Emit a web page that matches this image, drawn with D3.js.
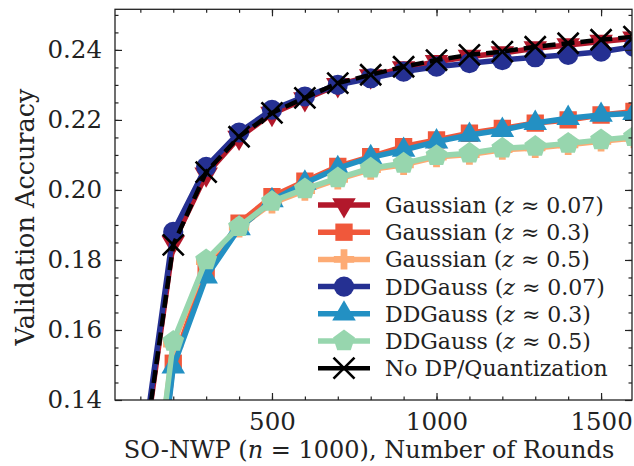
<!DOCTYPE html>
<html>
<head>
<meta charset="utf-8">
<script src="https://cdn.jsdelivr.net/npm/d3@7"></script>
<style>
  body { margin: 0; background: #fff; }
  svg text { font-family: "DejaVu Serif", serif; fill: #222; }
</style>
</head>
<body>
<svg id="chart" width="634" height="466"></svg>
<script>
// rounds on the x axis
const rounds = [100, 200, 300, 400, 500, 600, 700, 800, 900, 1000, 1100, 1200, 1300, 1400, 1500, 1600];

// validation accuracy per series
const gauss007 = [0.118, 0.1850, 0.2045, 0.2150, 0.2218, 0.2260, 0.2300, 0.2325, 0.2348, 0.2366, 0.2381, 0.2391, 0.2405, 0.2414, 0.2424, 0.2433];
const gauss03  = [0.070, 0.1505, 0.1771, 0.1905, 0.1981, 0.2025, 0.2067, 0.2095, 0.2124, 0.2143, 0.2162, 0.2176, 0.2191, 0.2200, 0.2214, 0.2224];
const gauss05  = [0.080, 0.1560, 0.1795, 0.1893, 0.1962, 0.1998, 0.2030, 0.2058, 0.2072, 0.2094, 0.2101, 0.2115, 0.2120, 0.2129, 0.2139, 0.2148];
const ddg007   = [0.120, 0.1880, 0.2066, 0.2164, 0.2229, 0.2267, 0.2300, 0.2319, 0.2338, 0.2352, 0.2362, 0.2371, 0.2379, 0.2386, 0.2395, 0.2409];
const ddg03    = [0.070, 0.1495, 0.1752, 0.1890, 0.1970, 0.2020, 0.2062, 0.2093, 0.2114, 0.2138, 0.2157, 0.2171, 0.2191, 0.2205, 0.2214, 0.2219];
const ddg05    = [0.080, 0.1567, 0.1800, 0.1895, 0.1967, 0.2003, 0.2034, 0.2062, 0.2076, 0.2098, 0.2105, 0.2119, 0.2124, 0.2133, 0.2143, 0.2152];
const noDP     = [0.118, 0.1843, 0.2051, 0.2152, 0.2220, 0.2263, 0.2305, 0.2329, 0.2352, 0.2371, 0.2386, 0.2395, 0.2409, 0.2419, 0.2429, 0.2438];

// legend names (prefix, z value); the last one has no z
const seriesNames = ["Gaussian", "Gaussian", "Gaussian", "DDGauss", "DDGauss", "DDGauss", "No DP/Quantization"];
const zValues = ["0.07", "0.3", "0.5", "0.07", "0.3", "0.5", null];

const yTicks = [0.14, 0.16, 0.18, 0.20, 0.22, 0.24];
const xTicks = [500, 1000, 1500];

const series = [
  { name: seriesNames[0], z: zValues[0], values: gauss007, color: "#b2182b", marker: "tridown" },
  { name: seriesNames[1], z: zValues[1], values: gauss03, color: "#f0583b", marker: "square" },
  { name: seriesNames[2], z: zValues[2], values: gauss05, color: "#fdab74", marker: "plus" },
  { name: seriesNames[3], z: zValues[3], values: ddg007, color: "#253092", marker: "circle" },
  { name: seriesNames[4], z: zValues[4], values: ddg03, color: "#2390c3", marker: "triup" },
  { name: seriesNames[5], z: zValues[5], values: ddg05, color: "#97d6ae", marker: "pentagon" },
  { name: seriesNames[6], z: zValues[6], values: noDP, color: "#000000", marker: "x", dashed: true }
];

const plotLeft = 115, plotRight = 632, plotTop = 9.3, plotBottom = 400;

let svg = d3.select("#chart");

let x = d3.scaleLinear().domain([23, 1594]).range([plotLeft, plotRight]);
let y = d3.scaleLinear().domain([0.14, 0.2516]).range([plotBottom, plotTop]);

// clip to plot area
svg.append("defs").append("clipPath")
  .attr("id", "plotclip")
  .append("rect")
  .attr("x", plotLeft).attr("y", plotTop)
  .attr("width", plotRight - plotLeft).attr("height", plotBottom - plotTop);

// marker path generator
function markerPath(kind) {
  if (kind == "circle") return d3.symbol(d3.symbolCircle, 320)();
  if (kind == "square") return d3.symbol(d3.symbolSquare, 300)();
  if (kind == "triup") return d3.symbol(d3.symbolTriangle, 240)();
  if (kind == "tridown") return d3.symbol(d3.symbolTriangle, 240)();
  if (kind == "plus") return d3.symbol(d3.symbolCross, 230)();
  if (kind == "pentagon") {
    let r = 11.5, pts = [];
    for (let i = 0; i < 5; i++) {
      let a = -Math.PI / 2 + i * 2 * Math.PI / 5;
      pts.push([r * Math.cos(a), r * Math.sin(a)]);
    }
    return "M" + pts.map(p => p.join(",")).join("L") + "Z";
  }
  if (kind == "x") return "M-10.5,-10.5L10.5,10.5M-10.5,10.5L10.5,-10.5";
}

function drawMarker(g, s, cx, cy) {
  let m = g.append("path")
    .attr("d", markerPath(s.marker))
    .attr("transform", "translate(" + cx + "," + cy + ")" + (s.marker == "tridown" ? " rotate(180)" : ""));
  if (s.marker == "x") {
    m.attr("fill", "none").attr("stroke", s.color).attr("stroke-width", 2.6);
  } else {
    m.attr("fill", s.color);
  }
}

let plot = svg.append("g").attr("clip-path", "url(#plotclip)");

let line = d3.line()
  .x((d, i) => x(rounds[i]))
  .y(d => y(d));

series.forEach(s => {
  let g = plot.append("g");
  g.append("path")
    .datum(s.values)
    .attr("d", line)
    .attr("fill", "none")
    .attr("stroke", s.color)
    .attr("stroke-width", s.dashed ? 4.5 : 5.5)
    .attr("stroke-dasharray", s.dashed ? "13,6" : null)
    .attr("stroke-linejoin", "round");
  s.values.forEach((v, i) => drawMarker(g, s, x(rounds[i]), y(v)));
});

// axes with inward ticks on all four sides
function styleAxis(g) {
  g.select(".domain").remove();
  g.selectAll(".tick line").attr("stroke", "#222").attr("stroke-width", 1.2);
  g.selectAll("text").attr("font-size", 24.5).attr("fill", "#222");
}

let minorX = d3.range(100, 1600, 100);
let minorY = d3.range(0.145, 0.252, 0.005);

svg.append("g").attr("transform", "translate(0," + plotBottom + ")")
  .call(d3.axisBottom(x).tickValues(minorX).tickSize(-3.5).tickFormat(""))
  .call(styleAxis);
svg.append("g").attr("transform", "translate(0," + plotBottom + ")")
  .call(d3.axisBottom(x).tickValues(xTicks).tickSize(-7).tickPadding(13).tickFormat(d3.format("d")))
  .call(styleAxis);
svg.append("g").attr("transform", "translate(0," + plotTop + ")")
  .call(d3.axisTop(x).tickValues(minorX).tickSize(-3.5).tickFormat(""))
  .call(styleAxis);
svg.append("g").attr("transform", "translate(0," + plotTop + ")")
  .call(d3.axisTop(x).tickValues(xTicks).tickSize(-7).tickFormat(""))
  .call(styleAxis);

svg.append("g").attr("transform", "translate(" + plotLeft + ",0)")
  .call(d3.axisLeft(y).tickValues(minorY).tickSize(-3.5).tickFormat(""))
  .call(styleAxis);
svg.append("g").attr("transform", "translate(" + plotLeft + ",0)")
  .call(d3.axisLeft(y).tickValues(yTicks).tickSize(-7).tickPadding(13).tickFormat(d3.format(".2f")))
  .call(styleAxis);
svg.append("g").attr("transform", "translate(" + plotRight + ",0)")
  .call(d3.axisRight(y).tickValues(minorY).tickSize(-3.5).tickFormat(""))
  .call(styleAxis);
svg.append("g").attr("transform", "translate(" + plotRight + ",0)")
  .call(d3.axisRight(y).tickValues(yTicks).tickSize(-7).tickFormat(""))
  .call(styleAxis);

// frame
svg.append("rect")
  .attr("x", plotLeft).attr("y", plotTop)
  .attr("width", plotRight - plotLeft).attr("height", plotBottom - plotTop)
  .attr("fill", "none").attr("stroke", "#222").attr("stroke-width", 1.3);

// axis labels
let xl = svg.append("text")
  .attr("x", 369).attr("y", 458)
  .attr("text-anchor", "middle")
  .attr("font-size", 24);
xl.append("tspan").text("SO-NWP (");
xl.append("tspan").attr("font-style", "italic").text("n");
xl.append("tspan").text(" = 1000), Number of Rounds");

svg.append("text")
  .attr("transform", "translate(34,217) rotate(-90)")
  .attr("text-anchor", "middle")
  .attr("font-size", 25.5)
  .text("Validation Accuracy");

// legend
let legend = svg.append("g");
series.forEach((s, i) => {
  let ly = 205 + i * 27.2;
  let g = legend.append("g");
  g.append("line")
    .attr("x1", 318).attr("x2", 370)
    .attr("y1", ly).attr("y2", ly)
    .attr("stroke", s.color)
    .attr("stroke-width", s.dashed ? 4.5 : 5.5);
  drawMarker(g, s, 344, ly);
  let t = g.append("text")
    .attr("x", 385).attr("y", ly)
    .attr("dy", "0.36em")
    .attr("font-size", 22);
  if (s.z) {
    t.append("tspan").text(s.name + " (");
    t.append("tspan").attr("font-style", "italic").text("z");
    t.append("tspan").text(" \u2248 " + s.z + ")");
  } else {
    t.text(s.name);
  }
});
</script>
</body>
</html>
